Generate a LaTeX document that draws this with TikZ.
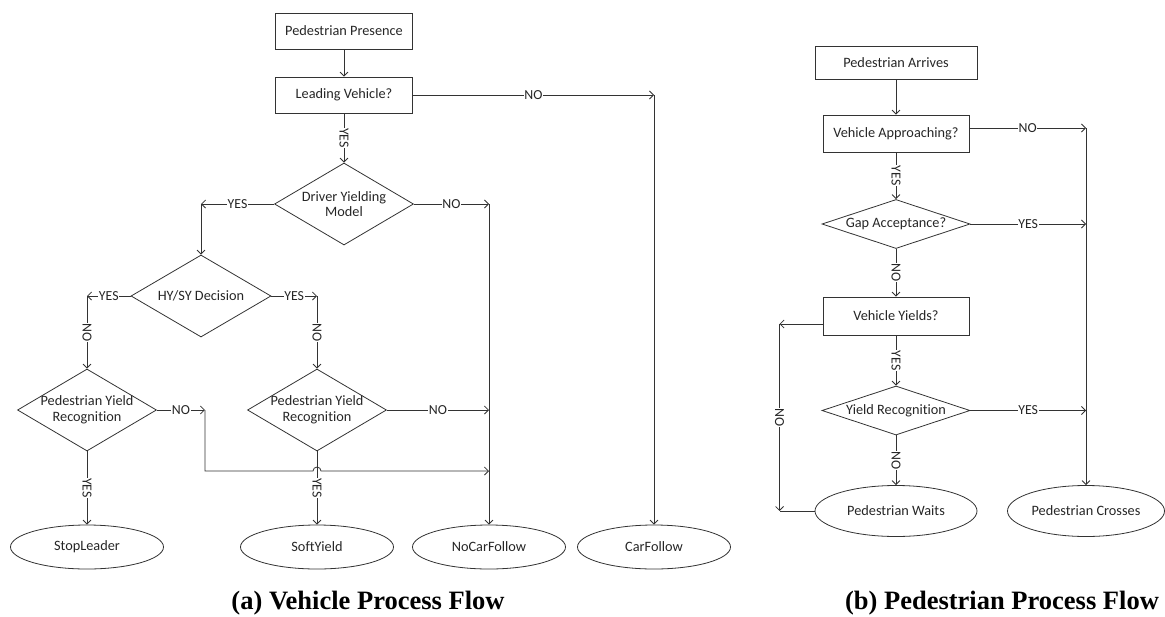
\documentclass[tikz,border=0pt]{standalone}
\usepackage{fontspec}
\setmainfont{Carlito}[Ligatures=NoCommon]
\newfontfamily\capfont{Liberation Serif}
\usetikzlibrary{shapes.geometric,arrows.meta,calc}
\begin{document}
\begin{tikzpicture}[x=1pt,y=-1pt,
  line width=0.8pt, draw=black!80,
  every node/.style={font=\fontsize{14.3}{15.5}\selectfont, text=black!85},
  box/.style={draw, rectangle, inner sep=0pt},
  dia/.style={draw, diamond, inner sep=0pt},
  diaA/.style={dia, minimum width=139pt, minimum height=82pt},
  diaB/.style={dia, minimum width=148pt, minimum height=49pt},
  oval/.style={draw, ellipse, inner sep=0pt},
  ovA/.style={oval, minimum width=153pt, minimum height=44pt},
  lbl/.style={fill=white, inner sep=0.6pt, font=\fontsize{13.8}{14}\selectfont},
  vlbl/.style={lbl, rotate=-90},
  arr/.style={-{Straight Barb[length=4pt,width=8pt]}},
  captxt/.style={font=\capfont\bfseries\fontsize{26.5}{30}\selectfont, text=black, inner sep=0pt},
  ]
\useasboundingbox (0,0) rectangle (1165,616);

% ---------------- Panel (a) ----------------
\node[box, minimum width=137pt, minimum height=36pt] (pp) at (344,31) {Pedestrian Presence};
\node[box, minimum width=137pt, minimum height=36pt] (lv) at (344,95) {Leading Vehicle?};
\node[diaA, label={[align=center]center:{Driver Yielding\\Model}}] (dym) at (344,204) {};
\node[diaA, minimum width=140pt, label={center:HY/SY Decision}] (hysy) at (201,296) {};
\node[diaA, label={[align=center]center:{Pedestrian Yield\\Recognition}}] (pyr1) at (87,410) {};
\node[diaA, label={[align=center]center:{Pedestrian Yield\\Recognition}}] (pyr2) at (317,410) {};
\node[ovA] (stop) at (87,547) {StopLeader};
\node[ovA] (soft) at (317,547) {SoftYield};
\node[ovA] (nocar) at (489,547) {NoCarFollow};
\node[ovA] (car) at (654,547) {CarFollow};

\draw[arr] (pp) -- (lv);
\draw[arr] (lv) -- node[vlbl]{YES} (dym);
\coordinate (carA) at (lv.east -| car.north);
\draw[arr] (lv.east) -- node[lbl]{NO} (carA);
\draw[arr] (carA) -- (car.north);
\coordinate (ncA) at (dym.east -| nocar.north);
\draw[arr] (dym.east) -- node[lbl]{NO} (ncA);
\draw[arr] (ncA) -- (nocar.north);
\coordinate (hyA) at (dym.west -| hysy.north);
\draw[arr] (dym.west) -- node[lbl]{YES} (hyA);
\draw[arr] (hyA) -- (hysy.north);
\coordinate (p1A) at (hysy.west -| pyr1.north);
\draw[arr] (hysy.west) -- node[lbl]{YES} (p1A);
\draw[arr] (p1A) -- node[vlbl]{NO} (pyr1.north);
\coordinate (p2A) at (hysy.east -| pyr2.north);
\draw[arr] (hysy.east) -- node[lbl]{YES} (p2A);
\draw[arr] (p2A) -- node[vlbl]{NO} (pyr2.north);
\coordinate (p1N) at ($(pyr1.east)+(48,0)$);
\draw[arr] (pyr1.east) -- node[lbl]{NO} (p1N);
\coordinate (p1M) at ($(p1N)+(0,61)$);
\coordinate (p1E) at (p1M -| nocar.north);
\coordinate (hop) at (p1M -| pyr2.south);
\draw[arr] (p1N) -- (p1M) -- ($(hop)+(-4,0)$) arc[start angle=180, end angle=0, radius=4pt] -- (p1E);
\draw[arr] (pyr2.east) -- node[lbl]{NO} (pyr2.east -| nocar.north);
\draw[arr] (pyr1.south) -- node[vlbl]{YES} (stop.north);
\draw[arr] (pyr2.south) -- node[vlbl, pos=0.5]{YES} (soft.north);

\node[captxt, anchor=base] (capa) at (368,609) {(a) Vehicle Process Flow};

% ---------------- Panel (b) ----------------
\node[box, minimum width=162pt, minimum height=33pt] (pa) at (896,62.5) {Pedestrian Arrives};
\node[box, minimum width=146pt, minimum height=37pt] (va) at (896,133.5) {Vehicle Approaching?};
\node[diaB, label={center:Gap Acceptance?}] (gap) at (896,224) {};
\node[box, minimum width=146pt, minimum height=38pt] (vy) at (896,316) {Vehicle Yields?};
\node[diaB, label={center:Yield Recognition}] (yr) at (896,410.5) {};
\node[oval, minimum width=162pt, minimum height=51pt] (pw) at (896,511) {Pedestrian Waits};
\node[oval, minimum width=157pt, minimum height=51pt] (pc) at (1086,511) {Pedestrian Crosses};

\draw[arr] (pa) -- (va);
\coordinate (vaE) at ($(va.east)+(0,-5.5)$);
\coordinate (rA) at (vaE -| pc.north);
\draw[arr] (vaE) -- node[lbl]{NO} (rA);
\draw[arr] (rA) -- (pc.north);
\draw[arr] (va) -- node[vlbl]{YES} (gap);
\draw[arr] (gap.east) -- node[lbl]{YES} (gap.east -| pc.north);
\draw[arr] (gap) -- node[vlbl]{NO} (vy);
\draw[arr] (vy) -- node[vlbl]{YES} (yr);
\draw[arr] (yr.east) -- node[lbl]{YES} (yr.east -| pc.north);
\draw[arr] (yr) -- node[vlbl]{NO} (pw);
\coordinate (vyW) at ($(vy.west)+(0,8)$);
\coordinate (lA) at ($(vyW)+(-43,0)$);
\coordinate (lB) at (lA |- pw.west);
\draw[arr] (vyW) -- (lA);
\draw[arr] (lA) -- node[vlbl]{NO} (lB);
\draw (pw.west) -- (lB);

\node[captxt, anchor=base] (capb) at (1002,609) {(b) Pedestrian Process Flow};
\end{tikzpicture}
\end{document}
